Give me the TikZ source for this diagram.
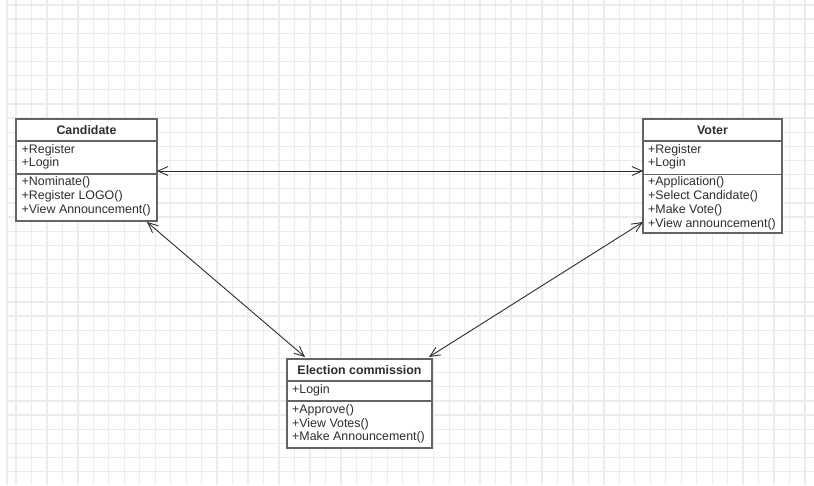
\documentclass[tikz,border=0pt]{standalone}
\usepackage{fontspec}
\setmainfont{Liberation Sans}
\usetikzlibrary{arrows.meta,positioning}
\definecolor{gridgray}{RGB}{236,236,236}
\definecolor{boxgray}{RGB}{100,100,100}
\definecolor{textdark}{RGB}{45,45,45}

\begin{document}
\begin{tikzpicture}[x=1pt,y=-1pt,
  classbox/.style={draw=boxgray, fill=white, line width=1.2pt, inner sep=0pt, outer sep=0pt},
  ctitle/.style={font=\fontsize{12.4}{14}\selectfont\bfseries, text=textdark, inner sep=0pt},
  member/.style={anchor=west, font=\fontsize{12.4}{14}\selectfont, text=textdark, inner sep=0pt},
  divider/.style={draw=boxgray, line width=1.2pt},
  gridline/.style={draw=gridgray, line width=1.3pt},
  assoc/.style={{Straight Barb[length=10pt,width=9pt]}-{Straight Barb[length=10pt,width=9pt]}, line width=0.9pt, draw=textdark}
]
  \useasboundingbox (0,0) rectangle (814,485);
  \fill[white] (0,0) rectangle (814,485);

  % background grid
  \draw[gridline] (7,0) -- (7,485);
  \foreach \i in {0,...,51} {
    \draw[gridline] ({16+15.47*\i},0) -- ({16+15.47*\i},485);
  }
  \foreach \j in {0,...,33} {
    \draw[gridline] (7,{5+14.14*\j}) -- (814,{5+14.14*\j});
  }

  % Candidate
  \node[classbox, minimum width=141pt, minimum height=102pt] (cand) at (86.5,170) {};
  \node[ctitle] (candT) at (86.5,130) {Candidate};
  \draw[divider] (cand.west |- 0,141) -- (cand.east |- 0,141);
  \draw[divider] (cand.west |- 0,174) -- (cand.east |- 0,174);
  \foreach \t [count=\k] in {+Register,+Login} {
    \node[member] (candA\k) at (21.5,{137.5+13*\k}) {\t};
  }
  \foreach \t [count=\k] in {+Nominate(),+Register LOGO(),+View Announcement()} {
    \node[member] (candM\k) at (21.5,{168+14*\k}) {\t};
  }

  % Voter
  \node[classbox, minimum width=139pt, minimum height=114pt] (voter) at (712.5,176) {};
  \node[ctitle] (voterT) at (712.5,130) {Voter};
  \draw[divider] (voter.west |- 0,141) -- (voter.east |- 0,141);
  \draw[divider] (voter.west |- 0,174.5) -- (voter.east |- 0,174.5);
  \foreach \t [count=\k] in {+Register,+Login} {
    \node[member] (voterA\k) at (648,{137.5+13*\k}) {\t};
  }
  \foreach \t [count=\k] in {+Application(),+Select Candidate(),+Make Vote(),+View announcement()} {
    \node[member] (voterM\k) at (648,{168+14*\k}) {\t};
  }

  % Election commission
  \node[classbox, minimum width=145pt, minimum height=89pt] (elec) at (359.5,403.5) {};
  \node[ctitle] (elecT) at (359.5,370) {Election commission};
  \draw[divider] (elec.west |- 0,381) -- (elec.east |- 0,381);
  \draw[divider] (elec.west |- 0,401) -- (elec.east |- 0,401);
  \node[member] (elecA1) at (292,390.7) {+Login};
  \foreach \t [count=\k] in {+Approve(),+View Votes(),+Make Announcement()} {
    \node[member] (elecM\k) at (292,{397+13.5*\k}) {\t};
  }

  % associations
  \draw[assoc] ([yshift=-1pt]cand.east) -- ([yshift=5pt]voter.west);
  \draw[assoc] ([xshift=-10pt,yshift=-1pt]cand.south east) -- ([xshift=18pt,yshift=2pt]elec.north west);
  \draw[assoc] ([yshift=11pt]voter.south west) -- ([xshift=-3pt,yshift=2pt]elec.north east);
\end{tikzpicture}
\end{document}
